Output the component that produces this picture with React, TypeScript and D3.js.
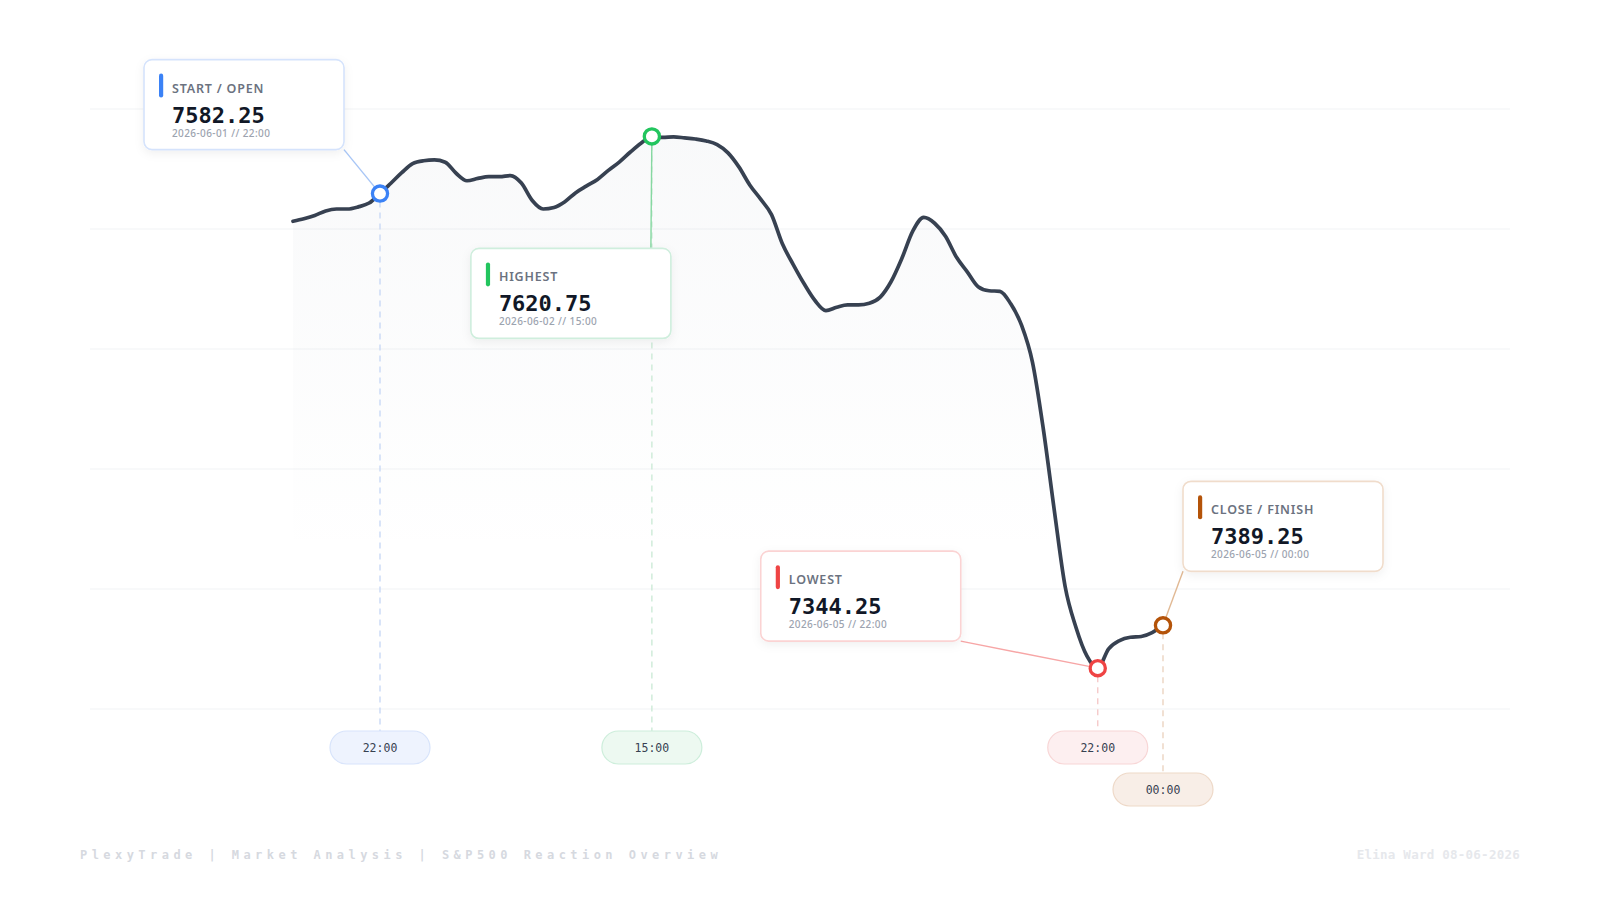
import { useMemo } from 'react';
import { scaleLinear, line as d3line, area as d3area, curveMonotoneX, range } from 'd3';

const W = 1600;
const H = 900;
const PLOT = { left: 90, right: 1510, top: 109, bottom: 709 };
const LINE_SPAN = [293, 1163]; // where the price path sits inside the plot
const Y_DOMAIN = [7323, 7635];
const GRID_LINES = 6;

// S&P500 path, one value per bar
const PRICES = [
  7576.6, 7577.9, 7579.6, 7582.0, 7583.0, 7583.0, 7584.1, 7586.1, 7591.0, 7596.4,
  7601.9, 7606.6, 7608.1, 7608.5, 7607.3, 7601.6, 7597.7, 7598.9, 7599.8, 7599.8,
  7600.4, 7596.5, 7587.4, 7583.0, 7583.8, 7586.8, 7591.5, 7595.0, 7598.4, 7603.1,
  7607.4, 7612.5, 7617.2, 7620.75, 7620.2, 7620.5, 7620.0, 7619.4, 7618.4, 7616.5,
  7612.2, 7604.9, 7595.5, 7588.1, 7580.1, 7564.9, 7554.1, 7544.1, 7535.4, 7530.2,
  7531.9, 7533.1, 7533.1, 7534.0, 7537.2, 7545.3, 7557.5, 7571.6, 7578.6, 7575.6,
  7568.8, 7558.0, 7550.3, 7542.6, 7540.5, 7540.2, 7533.7, 7522.5, 7503.3, 7468.4,
  7426.5, 7386.7, 7365.4, 7350.6, 7344.25, 7354.3, 7358.6, 7360.3, 7360.7, 7362.7,
  7366.5,
];

// annotated bars
const MARK_INDEX = [8, 33, 74, 80];
const MARK_TITLES = ['START / OPEN', 'HIGHEST', 'LOWEST', 'CLOSE / FINISH'];
const MARK_VALUES = [7582.25, 7620.75, 7344.25, 7389.25];
const MARK_DATES = ['2026-06-01 // 22:00', '2026-06-02 // 15:00', '2026-06-05 // 22:00', '2026-06-05 // 00:00'];
const MARK_TIMES = ['22:00', '15:00', '22:00', '00:00'];

const FOOTER_LEFT = 'PlexyTrade | Market Analysis | S&P500 Reaction Overview';
const FOOTER_RIGHT = 'Elina Ward 08-06-2026';

// colours per annotation
const MARK_STYLE = [
  { accent: '#3b82f6', border: '#d5e3fc', link: '#a8c6f6', dash: '#c9d9f6', pill: '#eef3fe', pillStroke: '#d8e4fb' },
  { accent: '#22c55e', border: '#cfeedd', link: '#86d8a1', dash: '#cdebd8', pill: '#edf9f1', pillStroke: '#cdeedb' },
  { accent: '#ef4444', border: '#fbd3d3', link: '#f7a6a6', dash: '#f5c9c9', pill: '#fdeff0', pillStroke: '#f8d6d6' },
  { accent: '#b45309', border: '#f0dccb', link: '#e1b994', dash: '#ecd4c1', pill: '#f8eee7', pillStroke: '#eed9c8' },
];

// card offset from its marker, the card point the connector leaves from, pill row
const CARD = { w: 200, h: 90, r: 8 };
const CARD_LAYOUT = [
  { dx: -236, dy: -134, ax: 1, ay: 1, row: 0 },
  { dx: -181, dy: 112, ax: 0.9, ay: 0, row: 0 },
  { dx: -337, dy: -117, ax: 1, ay: 1, row: 0 },
  { dx: 20, dy: -144, ax: 0, ay: 1, row: 1 },
];
const PILL = { w: 100, h: 33, y0: 731, rowGap: 42 };

const SANS = '"Noto Sans", "Open Sans", sans-serif';
const MONO = '"DejaVu Sans Mono", "Liberation Mono", monospace';

export default function App() {
  const x = useMemo(() => scaleLinear().domain([0, PRICES.length - 1]).range(LINE_SPAN), []);
  const y = useMemo(() => scaleLinear().domain(Y_DOMAIN).range([PLOT.bottom, PLOT.top]), []);

  const pts = PRICES.map((v, i) => [x(i), y(v)] as [number, number]);
  const linePath = d3line().curve(curveMonotoneX)(pts) ?? '';
  const areaPath =
    d3area()
      .curve(curveMonotoneX)
      .y0(PLOT.bottom)(pts) ?? '';

  const step = (Y_DOMAIN[1] - Y_DOMAIN[0]) / (GRID_LINES - 1);
  const grid = range(GRID_LINES).map((k) => Y_DOMAIN[0] + k * step);

  return (
    <div style={{ position: 'fixed', inset: 0, overflow: 'hidden', background: '#fff' }}>
      <svg width={W} height={H} style={{ display: 'block' }}>
        <defs>
          <linearGradient id="fade" gradientUnits="userSpaceOnUse" x1={0} y1={PLOT.top} x2={0} y2={PLOT.bottom}>
            <stop offset="0" stopColor="#64748b" stopOpacity={0.045} />
            <stop offset="0.75" stopColor="#64748b" stopOpacity={0} />
          </linearGradient>
          <filter id="shadow" x="-20%" y="-20%" width="140%" height="150%">
            <feDropShadow dx="0" dy="3" stdDeviation="5" floodColor="#0f172a" floodOpacity="0.06" />
          </filter>
        </defs>

        {grid.map((g) => (
          <line key={g} x1={PLOT.left} x2={PLOT.right} y1={y(g)} y2={y(g)} stroke="#f1f3f5" strokeWidth={1.2} />
        ))}

        <path d={areaPath} fill="url(#fade)" />

        {/* dashed drops to the time pills */}
        {MARK_INDEX.map((idx, k) => {
          const L = CARD_LAYOUT[k];
          return (
            <line
              key={`d${k}`}
              x1={x(idx)}
              x2={x(idx)}
              y1={y(PRICES[idx]) + 8}
              y2={PILL.y0 + L.row * PILL.rowGap}
              stroke={MARK_STYLE[k].dash}
              strokeWidth={1.4}
              strokeDasharray="6 5"
            />
          );
        })}

        <path d={linePath} fill="none" stroke="#374151" strokeWidth={3.7} strokeLinejoin="round" strokeLinecap="round" />

        {/* connectors */}
        {MARK_INDEX.map((idx, k) => {
          const L = CARD_LAYOUT[k];
          const mx = x(idx);
          const my = y(PRICES[idx]);
          return (
            <line
              key={`c${k}`}
              x1={mx + L.dx + L.ax * CARD.w}
              y1={my + L.dy + L.ay * CARD.h}
              x2={mx}
              y2={my}
              stroke={MARK_STYLE[k].link}
              strokeWidth={1.4}
            />
          );
        })}

        {/* markers */}
        {MARK_INDEX.map((idx, k) => (
          <circle key={`m${k}`} cx={x(idx)} cy={y(PRICES[idx])} r={7.6} fill="#fff" stroke={MARK_STYLE[k].accent} strokeWidth={3.3} />
        ))}

        {/* cards */}
        {MARK_INDEX.map((idx, k) => {
          const L = CARD_LAYOUT[k];
          const S = MARK_STYLE[k];
          const cx = x(idx) + L.dx;
          const cy = y(PRICES[idx]) + L.dy;
          return (
            <g key={`k${k}`} transform={`translate(${cx},${cy})`}>
              <rect width={CARD.w} height={CARD.h} rx={CARD.r} fill="#fff" stroke={S.border} strokeWidth={1.6} filter="url(#shadow)" />
              <rect x={15} y={14} width={4.2} height={24} rx={2.1} fill={S.accent} />
              <text x={28} y={33} fontFamily={SANS} fontSize={12.5} fontWeight={600} letterSpacing={0.8} fill="#6b7280">
                {MARK_TITLES[k]}
              </text>
              <text x={28} y={63} fontFamily={MONO} fontSize={22} fontWeight={700} fill="#111827">
                {MARK_VALUES[k].toFixed(2)}
              </text>
              <text x={28} y={77} fontFamily={SANS} fontSize={10} fontWeight={500} letterSpacing={0.4} fill="#9ca3af">
                {MARK_DATES[k]}
              </text>
            </g>
          );
        })}

        {/* time pills */}
        {MARK_INDEX.map((idx, k) => {
          const L = CARD_LAYOUT[k];
          const S = MARK_STYLE[k];
          const py = PILL.y0 + L.row * PILL.rowGap;
          return (
            <g key={`p${k}`} transform={`translate(${x(idx)},${py})`}>
              <rect x={-PILL.w / 2} width={PILL.w} height={PILL.h} rx={PILL.h / 2} fill={S.pill} stroke={S.pillStroke} strokeWidth={1.2} />
              <text y={PILL.h / 2 + 4} textAnchor="middle" fontFamily={MONO} fontSize={11.5} fill="#374151">
                {MARK_TIMES[k]}
              </text>
            </g>
          );
        })}

        <text x={80} y={859} fontFamily={MONO} fontSize={12} fontWeight={700} letterSpacing={4.45} fill="#d6d9df">
          {FOOTER_LEFT}
        </text>
        <text x={1520} y={859} textAnchor="end" fontFamily={MONO} fontSize={12.5} fontWeight={700} letterSpacing={0.25} fill="#e6e8ec">
          {FOOTER_RIGHT}
        </text>
      </svg>
    </div>
  );
}
